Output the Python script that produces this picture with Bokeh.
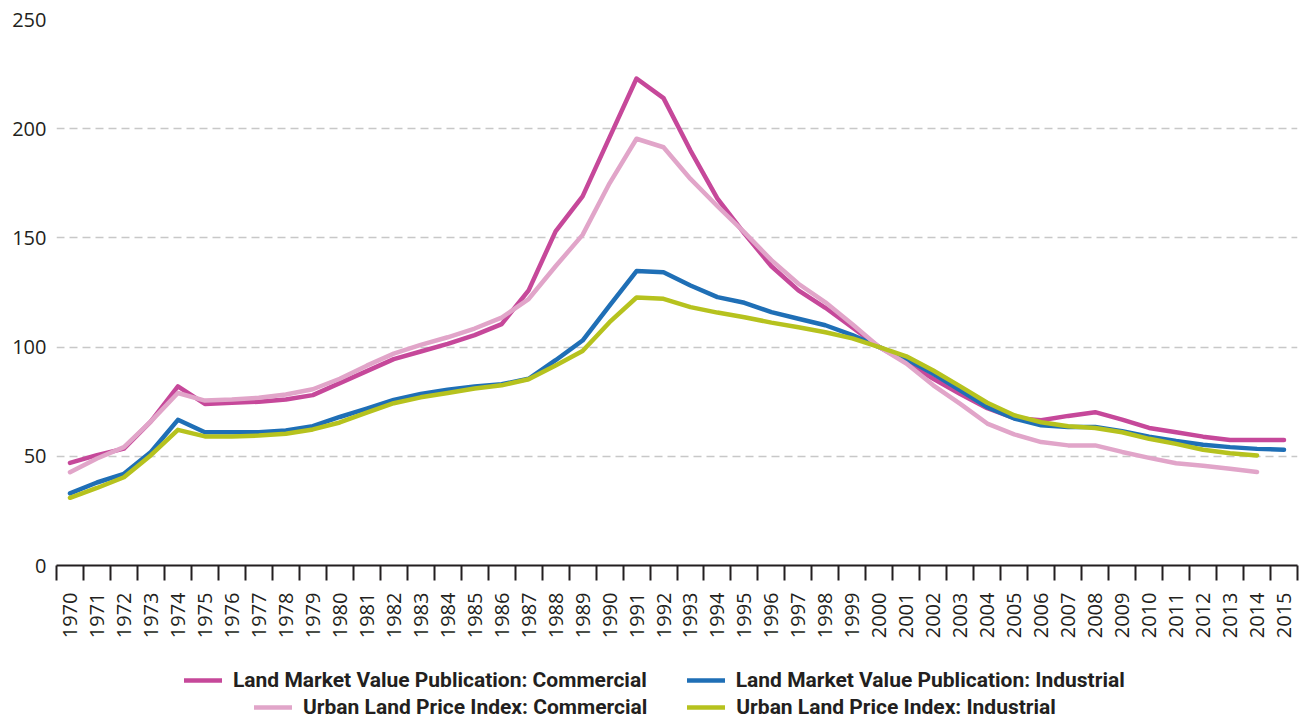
import math
from bokeh.plotting import figure
from bokeh.layouts import column
from bokeh.models import (FixedTicker, Legend, LegendItem, Range1d)
from bokeh.embed import file_html
from bokeh.resources import INLINE

# ---------------- data ----------------
years = list(range(1970, 2016))
years_ulpi = list(range(1970, 2015))

lmv_commercial = [47, 50.5, 53.5, 66, 82, 74, 74.5, 75, 76, 78,
                  83.5, 89, 94.5, 98, 101.5, 105.5, 110.5, 126, 153, 169,
                  196, 223, 214, 190, 168, 152, 137, 126, 118, 109,
                  100, 93, 85.5, 78.5, 72, 67.5, 66.5, 68.5, 70.2, 66.8,
                  63, 61, 59, 57.5, 57.5, 57.5]
lmv_industrial = [33, 38, 42, 52, 66.7, 61, 61, 61, 61.8, 63.8,
                  68, 71.8, 75.8, 78.5, 80.5, 82, 83, 85.5, 94, 103,
                  119, 134.8, 134.3, 128.2, 122.9, 120.3, 116, 113, 110, 105.5,
                  100, 94.5, 87.8, 80.2, 72.5, 67.3, 64.2, 63.4, 63.4, 61.5,
                  59, 57, 55.3, 54.2, 53.4, 53]
ulpi_commercial = [42.7, 49, 54.2, 66, 79, 75.5, 76, 76.8, 78.3, 80.7,
                   85.5, 91.5, 97, 101, 104.5, 108.5, 113.5, 122, 137, 151.4,
                   175, 195.4, 191.5, 177, 164.5, 152.5, 139.8, 129, 120.5, 110.5,
                   100, 92.5, 82.5, 74, 65, 60, 56.5, 55, 55, 52,
                   49.3, 46.8, 45.7, 44.3, 42.8]
ulpi_industrial = [31, 35.5, 40.4, 50.5, 62.1, 59.1, 59.1, 59.5, 60.3, 62.3,
                   65.5, 70, 74.3, 77, 79, 81, 82.5, 85.3, 91.6, 98.2,
                   111.4, 122.7, 122.1, 118.3, 115.8, 113.7, 111.2, 109.1, 106.8, 104,
                   100, 95.8, 89.3, 82, 74.5, 68.8, 65.6, 63.8, 63, 61,
                   58, 55.7, 53, 51.4, 50.4]

labels = ["Land Market Value Publication: Commercial",
          "Land Market Value Publication: Industrial",
          "Urban Land Price Index: Commercial",
          "Urban Land Price Index: Industrial"]
y_ticks = [0, 50, 100, 150, 200, 250]

# ---------------- styling ----------------
C_MAG = "#C6489A"
C_BLUE = "#1F6FB6"
C_PINK = "#E1A5C9"
C_GREEN = "#B6C21E"
TXT = "#231F20"
LW = 4.5
styles = [C_MAG, C_BLUE, C_PINK, C_GREEN]

W = 1299
p = figure(width=W, height=645,
           x_range=Range1d(1969.5, 2015.5), y_range=Range1d(0, 250),
           output_backend="svg", toolbar_location=None,
           min_border_left=56, min_border_right=2, min_border_top=19,
           min_border_bottom=80, outline_line_color=None)

series = [(years, lmv_commercial), (years, lmv_industrial),
          (years_ulpi, ulpi_commercial), (years_ulpi, ulpi_industrial)]
for (xs, ys), col in zip(series, styles):
    p.line(xs, ys, line_color=col, line_width=LW,
           line_join="round", line_cap="round")

# x axis: tick marks between years, labels at year centres
xa = p.xaxis[0]
xa.ticker = FixedTicker(ticks=years,
                        minor_ticks=[y - 0.5 for y in years] + [years[-1] + 0.5])
xa.major_label_overrides = {y: str(y) for y in years}
xa.major_tick_line_color = None
xa.major_tick_in = 0
xa.major_tick_out = 15
xa.minor_tick_in = 0
xa.minor_tick_out = 15
xa.minor_tick_line_color = TXT
xa.minor_tick_line_width = 2
xa.axis_line_color = TXT
xa.axis_line_width = 2
xa.major_label_standoff = 12
xa.major_label_orientation = math.pi / 2
xa.major_label_text_font = "Open Sans"
xa.major_label_text_font_size = "20px"
xa.major_label_text_color = TXT

ya = p.yaxis[0]
ya.ticker = FixedTicker(ticks=y_ticks)
ya.axis_line_color = None
ya.major_tick_line_color = None
ya.minor_tick_line_color = None
ya.major_tick_out = 0
ya.major_tick_in = 0
ya.major_label_standoff = 10
ya.major_label_text_font = "Open Sans"
ya.major_label_text_font_size = "20px"
ya.major_label_text_color = TXT

p.xgrid.visible = False
p.ygrid.grid_line_color = "#C8C8C8"
p.ygrid.grid_line_dash = "8 5"
p.ygrid.grid_line_width = 1.5

# ---------------- legend strip ----------------
# (same series drawn again, outside this strip's visible ranges, so that
#  the legend entries have real renderers)
H2 = 75
pl = figure(width=W, height=H2, x_range=Range1d(0, 1), y_range=Range1d(0, 1),
            output_backend="svg", toolbar_location=None,
            x_axis_location=None, y_axis_location=None,
            min_border=0, outline_line_color=None)
pl.grid.visible = False
leg_r = [pl.line(xs, ys, line_color=col, line_width=LW, line_cap="round")
         for (xs, ys), col in zip(series, styles)]

def make_legend(items, loc):
    return Legend(items=items, orientation="horizontal", location=loc,
                  spacing=40, glyph_width=38, glyph_height=22, label_standoff=11,
                  padding=0, margin=0, border_line_color=None,
                  background_fill_alpha=0,
                  label_text_font="Roboto", label_text_font_style="bold",
                  label_text_font_size="21px", label_text_color=TXT,
                  label_height=22)

leg1 = make_legend([LegendItem(label=labels[0], renderers=[leg_r[0]]),
                    LegendItem(label=labels[1], renderers=[leg_r[1]])], (128, 28))
leg2 = make_legend([LegendItem(label=labels[2], renderers=[leg_r[2]]),
                    LegendItem(label=labels[3], renderers=[leg_r[3]])], (198, 1))
pl.add_layout(leg1)
pl.add_layout(leg2)

layout = column(p, pl, spacing=0)
open("out.html", "w").write(file_html(layout, INLINE))
